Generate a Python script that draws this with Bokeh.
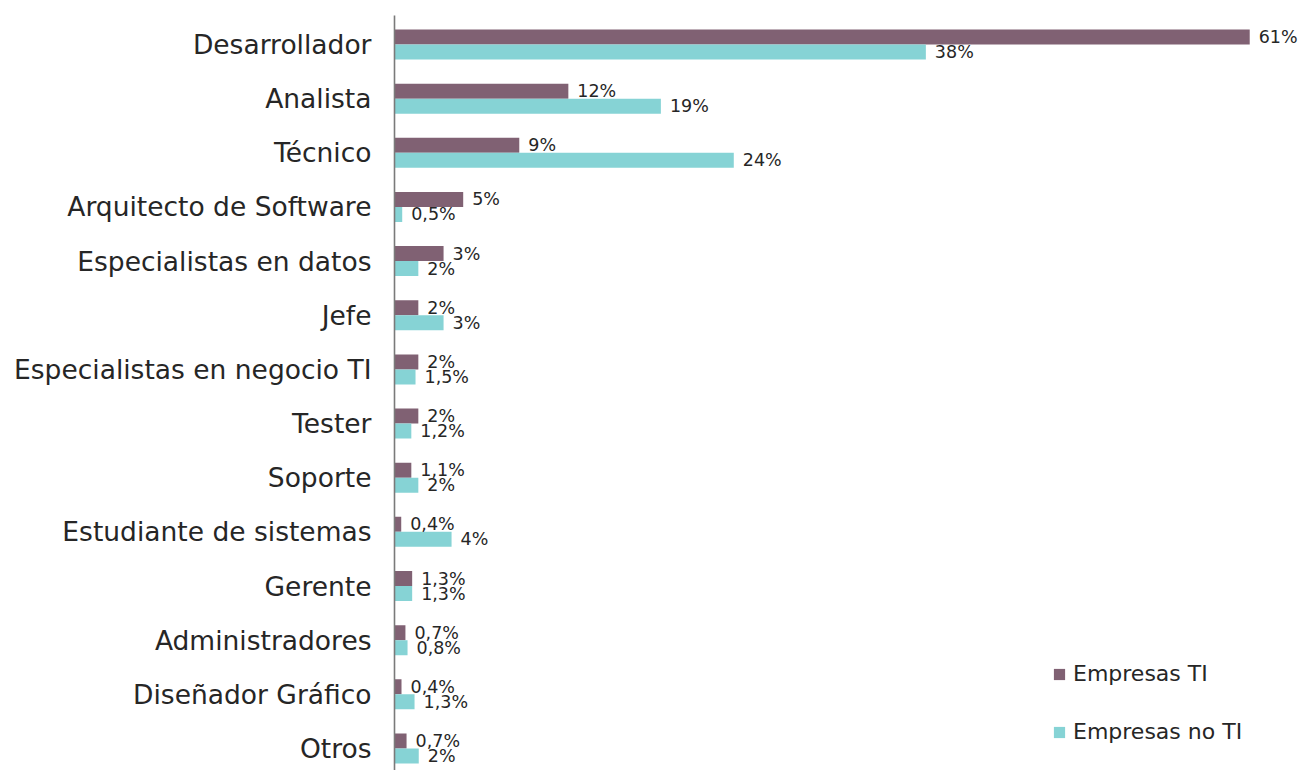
from bokeh.plotting import figure
from bokeh.models import Range1d, FixedTicker, Legend, LegendItem, ColumnDataSource
from bokeh.core.properties import value
from bokeh.embed import file_html
from bokeh.resources import INLINE

categories = ["Desarrollador", "Analista", "Técnico", "Arquitecto de Software",
              "Especialistas en datos", "Jefe", "Especialistas en negocio TI",
              "Tester", "Soporte", "Estudiante de sistemas", "Gerente",
              "Administradores", "Diseñador Gráfico", "Otros"]
empresas_ti = [61, 12.4, 8.9, 4.9, 3.5, 1.7, 1.7, 1.7, 1.2, 0.48, 1.26, 0.78, 0.5, 0.86]
empresas_no_ti = [37.9, 19.0, 24.2, 0.55, 1.7, 3.5, 1.5, 1.2, 1.7, 4.07, 1.26, 0.93, 1.43, 1.73]
labels_ti = ["61%", "12%", "9%", "5%", "3%", "2%", "2%", "2%", "1,1%", "0,4%", "1,3%", "0,7%", "0,4%", "0,7%"]
labels_no_ti = ["38%", "19%", "24%", "0,5%", "2%", "3%", "1,5%", "1,2%", "2%", "4%", "1,3%", "0,8%", "1,3%", "2%"]
series_names = ["Empresas TI", "Empresas no TI"]

PURPLE = "#806173"
TEAL = "#86D3D5"
FONT = "DejaVu Sans"
TXT = "#262626"

n = len(categories)
idx = list(range(n))
bar_h = 0.277

src_ti = ColumnDataSource(dict(y=[i - bar_h / 2 for i in idx], x=empresas_ti, lab=labels_ti))
src_no = ColumnDataSource(dict(y=[i + bar_h / 2 for i in idx], x=empresas_no_ti, lab=labels_no_ti))

p = figure(width=1300, height=770, output_backend="svg", toolbar_location=None,
           x_range=Range1d(0, 906 / 14.02), y_range=Range1d(13.407, -0.5355),
           min_border_left=394, min_border_right=0, min_border_top=15, min_border_bottom=0)
p.xaxis.visible = False
p.xgrid.visible = False
p.ygrid.visible = False
p.outline_line_color = None
p.background_fill_color = "white"
p.border_fill_color = "white"

yax = p.yaxis[0]
yax.ticker = FixedTicker(ticks=idx)
yax.major_label_overrides = {i: c for i, c in enumerate(categories)}
yax.major_tick_line_color = None
yax.minor_tick_line_color = None
yax.major_label_standoff = 17
yax.major_label_text_font = FONT
yax.major_label_text_font_size = "26.5px"
yax.major_label_text_color = TXT
yax.axis_line_color = "#7a7a7a"
yax.axis_line_width = 1.6

r1 = p.hbar(y="y", left=0, right="x", height=bar_h, source=src_ti, fill_color=PURPLE, line_color=None)
r2 = p.hbar(y="y", left=0, right="x", height=bar_h, source=src_no, fill_color=TEAL, line_color=None)

for s in (src_ti, src_no):
    p.text(x="x", y="y", text="lab", source=s, x_offset=9, y_offset=0,
           text_font=value(FONT), text_font_size="17.5px", text_color=TXT,
           text_baseline="middle", text_align="left")

legend = Legend(items=[LegendItem(label=series_names[0], renderers=[r1]),
                       LegendItem(label=series_names[1], renderers=[r2])],
                location=(658, 26), orientation="vertical",
                glyph_width=14, glyph_height=14, label_standoff=7,
                label_text_font=FONT, label_text_font_size="22px", label_text_color=TXT,
                label_height=20, spacing=33, padding=0, margin=0,
                border_line_alpha=0, background_fill_alpha=0)
p.add_layout(legend)

open("out.html", "w").write(file_html(p, INLINE))
